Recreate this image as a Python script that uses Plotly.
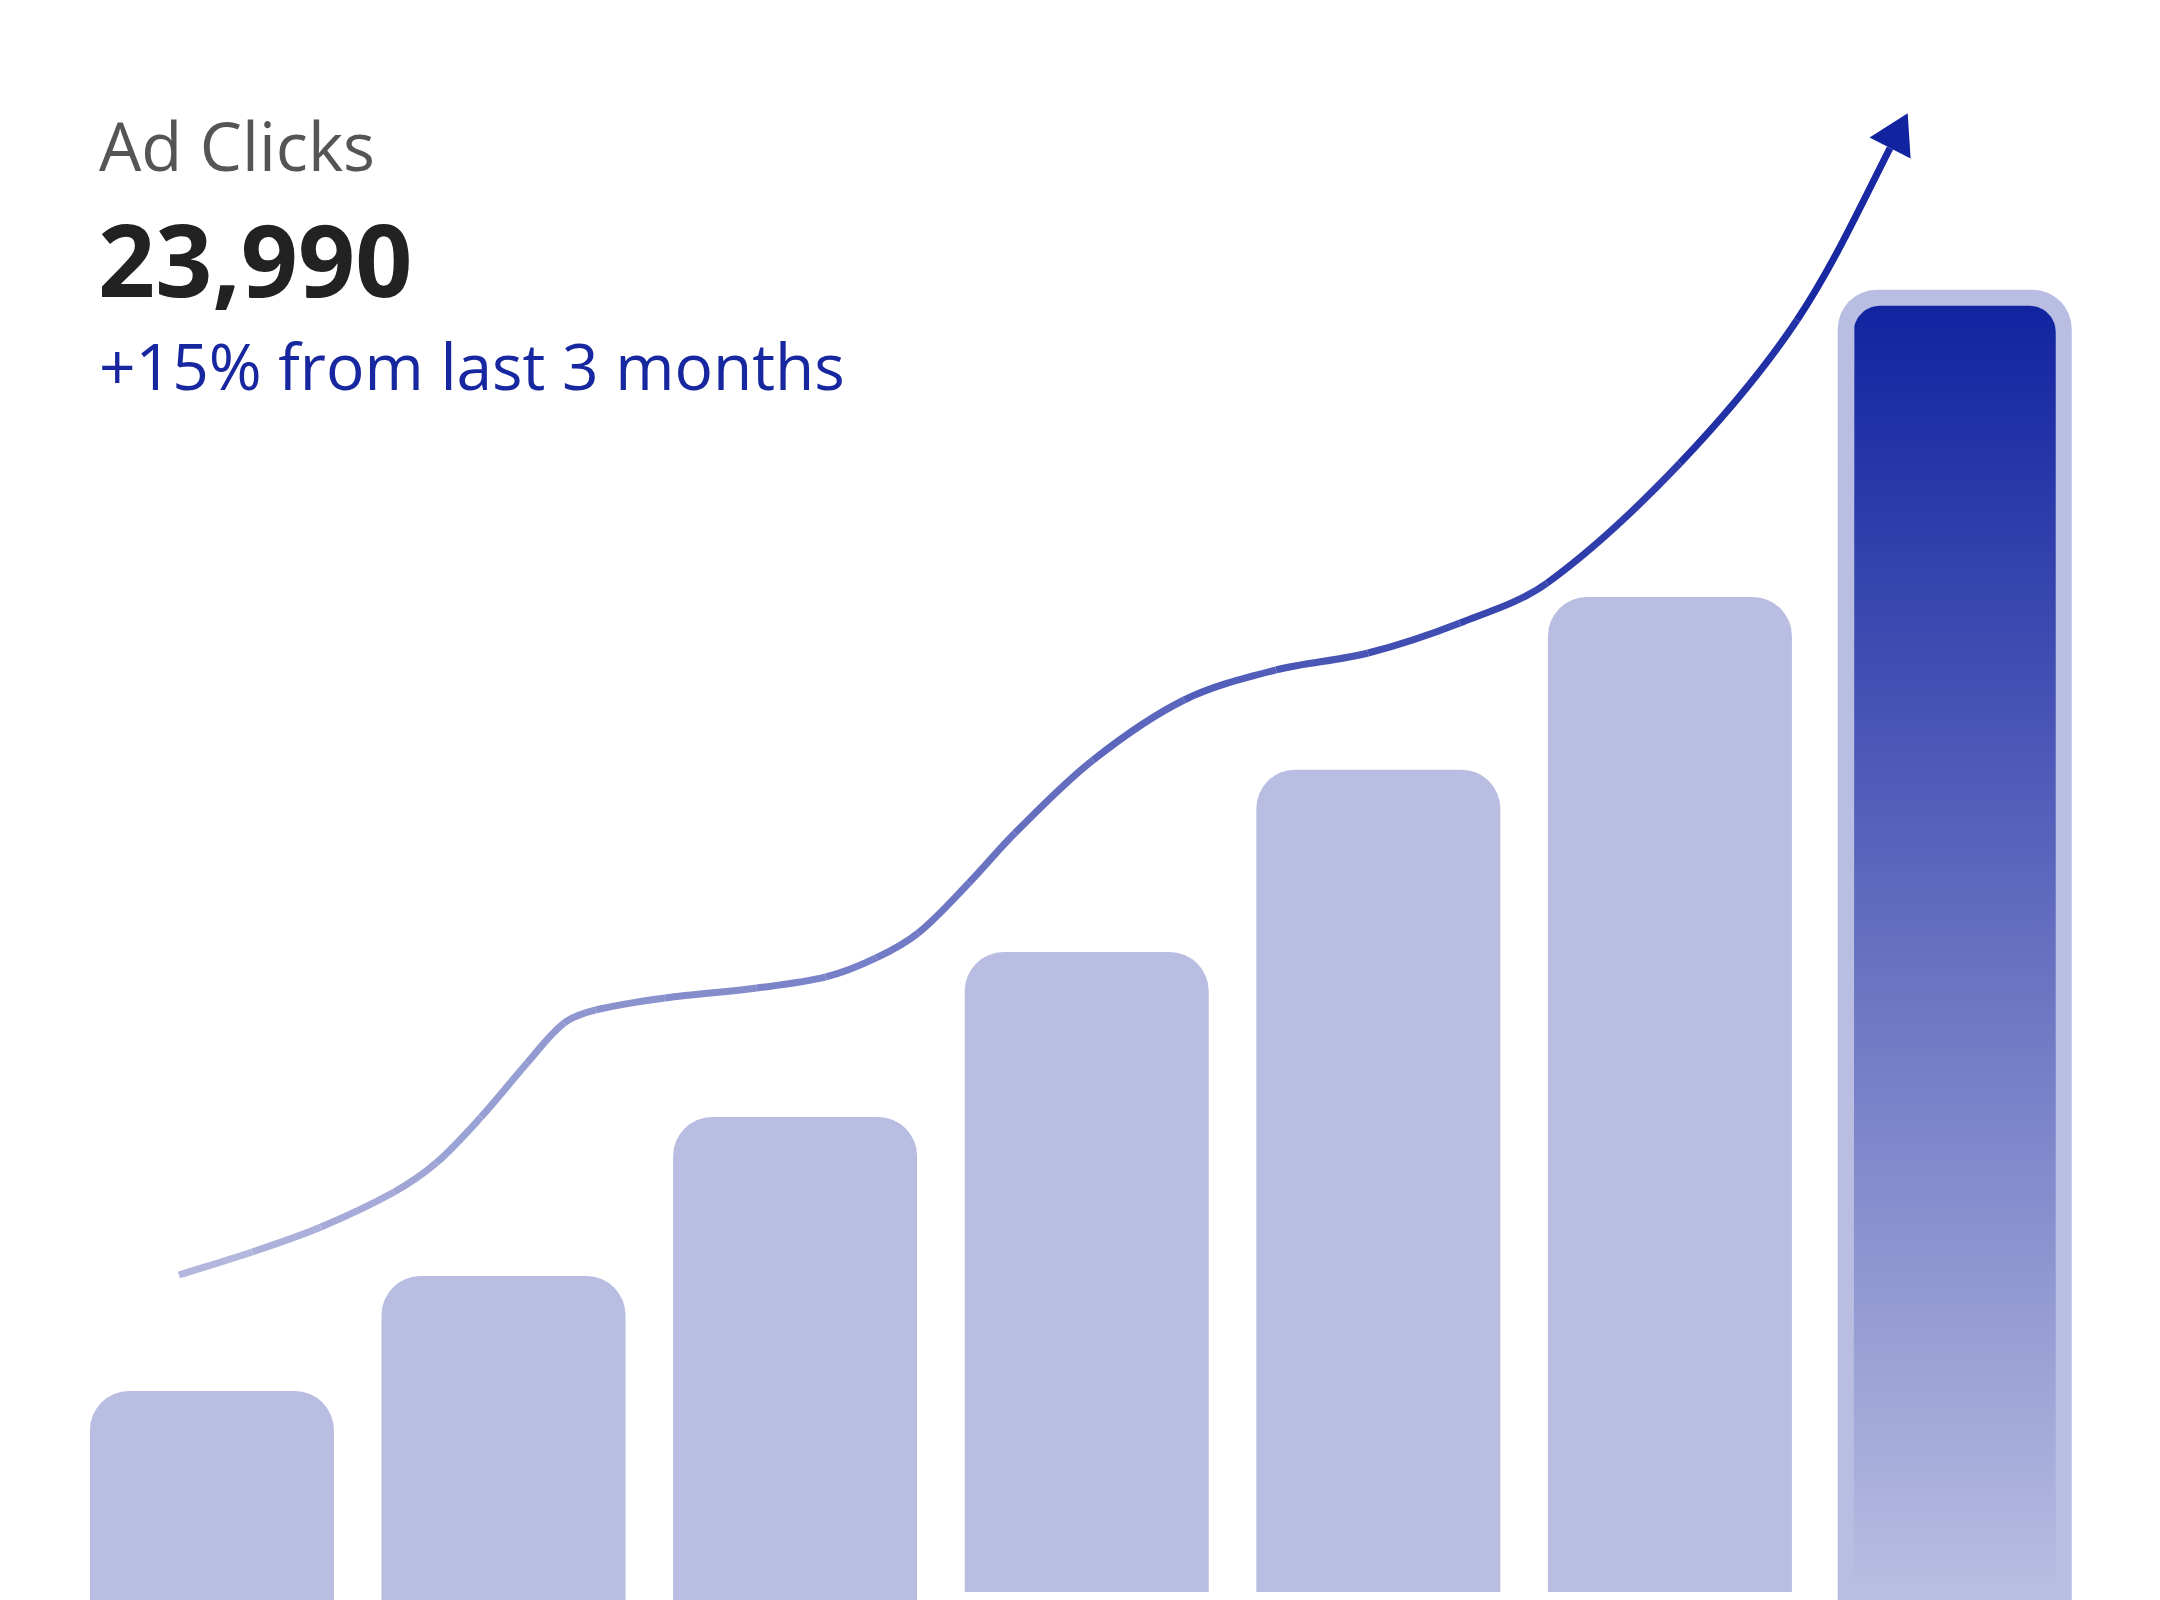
import math
import plotly.graph_objects as go

# ---------------- data ----------------
months = ["Jan", "Feb", "Mar", "Apr", "May", "Jun", "Jul"]
clicks = [3700, 5820, 8750, 11790, 15150, 18330, 23990]

# trend line knots (x in month-index units, y in clicks)
trend_x = [-0.113, 0.138, 0.374, 0.625, 0.769, 0.923, 1.081, 1.208, 1.317, 1.554, 1.869, 2.106,
           2.278, 2.422, 2.596, 2.754, 3.022, 3.334, 3.649, 3.965, 4.280, 4.579, 5.035, 5.436, 5.755]
trend_y = [5839, 6263, 6723, 7368, 7903, 8750, 9745, 10482, 10722, 10943, 11127, 11330,
           11680, 12140, 13062, 13983, 15328, 16433, 16986, 17299, 17852, 18589, 20800, 23435, 26604]
arrow_tip = (5.8155, 27243)

title_text = "Ad Clicks"
total_text = "23,990"
change_text = "+15% from last 3 months"

# ---------------- layout constants ----------------
W, H = 2160, 1600
OFF = 8  # page body margin
X_RANGE = [-0.6993, 6.7081]
Y_RANGE = [-297, 29183]
PXX = W / (X_RANGE[1] - X_RANGE[0])
PXY = H / (Y_RANGE[1] - Y_RANGE[0])


def to_px(x, y):
    return (x - X_RANGE[0]) * PXX, (Y_RANGE[1] - y) * PXY


def from_px(px, py):
    return px / PXX + X_RANGE[0], Y_RANGE[1] - py / PXY


BAR_COLOR = "#b8bde1"
DARK = (18, 35, 160)
LIGHT_LINE = (182, 186, 223)

bar_w = [0.8368] * 6 + [0.8025]
bar_shift = [0, 0, 0, 0, 0, 0, -0.0233]
bar_offset = [s - w / 2 for s, w in zip(bar_shift, bar_w)]
BASE = -900
bar_len = [v - BASE for v in clicks]

fig = go.Figure()
fig.add_trace(go.Bar(
    x=list(range(len(months))), y=bar_len, base=BASE,
    width=bar_w, offset=bar_offset,
    marker=dict(color=BAR_COLOR, line=dict(width=0)),
    hoverinfo="skip",
))

# inner gradient of last bar (rounded top, border 16px)
i7 = len(clicks) - 1
cx_px, top_px = to_px(i7 + bar_shift[i7], clicks[i7])
half_px = bar_w[i7] * PXX / 2 - 16
itop = top_px + 16
r = 26
pts = [(cx_px - half_px, H + 100), (cx_px - half_px, itop + r)]
n = 14
for k in range(n + 1):
    a = math.pi + (math.pi / 2) * k / n
    pts.append((cx_px - half_px + r + r * math.cos(a), itop + r + r * math.sin(a)))
for k in range(n + 1):
    a = 1.5 * math.pi + (math.pi / 2) * k / n
    pts.append((cx_px + half_px - r + r * math.cos(a), itop + r + r * math.sin(a)))
pts.append((cx_px + half_px, H + 100))
dpts = [from_px(px, py) for px, py in pts]
_, grad_stop = from_px(0, itop)
_, grad_start = from_px(0, H - 20)
fig.add_trace(go.Scatter(
    x=[p[0] for p in dpts], y=[p[1] for p in dpts], mode="lines",
    fill="toself", line=dict(width=0),
    fillgradient=dict(type="vertical", start=grad_start, stop=grad_stop,
                      colorscale=[[0, BAR_COLOR], [1, "rgb(18,35,160)"]]),
    hoverinfo="skip",
))

shapes = []
# mask the strip under bars 4-6 (they stop a little above the bottom edge)
shapes.append(dict(type="rect", xref="x", yref="y", x0=2.5, x1=5.5, y0=BASE - 500, y1=0,
                   fillcolor="white", line=dict(width=0), layer="above"))

# gradient trend line: smooth Bezier segments (tangents from neighbours) in pixel space
P = [to_px(x, y) for x, y in zip(trend_x, trend_y)]
N = len(P)
TIP = to_px(*arrow_tip)


def unit(v):
    l = math.hypot(v[0], v[1])
    return (v[0] / l, v[1] / l)


tang = []
for i in range(N):
    if i == 0:
        t = unit((P[1][0] - P[0][0], P[1][1] - P[0][1]))
    elif i == N - 1:
        t = unit((TIP[0] - P[i][0], TIP[1] - P[i][1]))
    else:
        t = unit((P[i + 1][0] - P[i - 1][0], P[i + 1][1] - P[i - 1][1]))
    tang.append(t)

x0, x1 = trend_x[0], arrow_tip[0]


def col_at(x):
    t = min(max((x - x0) / (x1 - x0), 0), 1)
    c = [round(LIGHT_LINE[j] + (DARK[j] - LIGHT_LINE[j]) * t) for j in range(3)]
    return f"rgb({c[0]},{c[1]},{c[2]})"


for i in range(N - 1):
    a, b = P[i], P[i + 1]
    d = math.hypot(b[0] - a[0], b[1] - a[1]) / 3
    c1 = (a[0] + tang[i][0] * d, a[1] + tang[i][1] * d)
    c2 = (b[0] - tang[i + 1][0] * d, b[1] - tang[i + 1][1] * d)
    A, C1, C2, B = [from_px(*q) for q in (a, c1, c2, b)]
    path = f"M{A[0]:.5f},{A[1]:.2f} C{C1[0]:.5f},{C1[1]:.2f} {C2[0]:.5f},{C2[1]:.2f} {B[0]:.5f},{B[1]:.2f}"
    shapes.append(dict(type="path", path=path, xref="x", yref="y",
                       line=dict(color=col_at((trend_x[i] + trend_x[i + 1]) / 2), width=7),
                       fillcolor="rgba(0,0,0,0)", layer="above"))

# arrow head
bx, by = P[-1]
tx, ty = TIP
L = math.hypot(tx - bx, ty - by)
dx, dy = (tx - bx) / L, (ty - by) / L
hw = 23
c_a = from_px(bx + dy * hw, by - dx * hw)
c_b = from_px(bx - dy * hw, by + dx * hw)
shapes.append(dict(type="path", xref="x", yref="y",
                   path=f"M{arrow_tip[0]},{arrow_tip[1]} L{c_a[0]},{c_a[1]} L{c_b[0]},{c_b[1]} Z",
                   fillcolor="rgb(18,35,160)", line=dict(width=0), layer="above"))

ann = [
    dict(text=title_text, x=(97 - OFF) / W, y=1 - (145 - OFF) / H,
         font=dict(family="Open Sans", size=67, color="#555555")),
    dict(text=f"<b>{total_text}</b>", x=(96 - OFF) / W, y=1 - (257.5 - OFF) / H,
         font=dict(family="Open Sans", size=100, color="#222222")),
    dict(text=change_text, x=(97 - OFF) / W, y=1 - (365 - OFF) / H,
         font=dict(family="Open Sans", size=64, color="#16279f")),
]
for a in ann:
    a.update(xref="paper", yref="paper", xanchor="left", yanchor="middle", showarrow=False)

fig.update_layout(
    width=W, height=H, margin=dict(l=0, r=0, t=0, b=0),
    paper_bgcolor="white", plot_bgcolor="white",
    showlegend=False, barmode="overlay", barcornerradius=39,
    xaxis=dict(range=X_RANGE, visible=False, fixedrange=True),
    yaxis=dict(range=Y_RANGE, visible=False, fixedrange=True),
    shapes=shapes, annotations=ann,
)

fig.write_html("out.html")
